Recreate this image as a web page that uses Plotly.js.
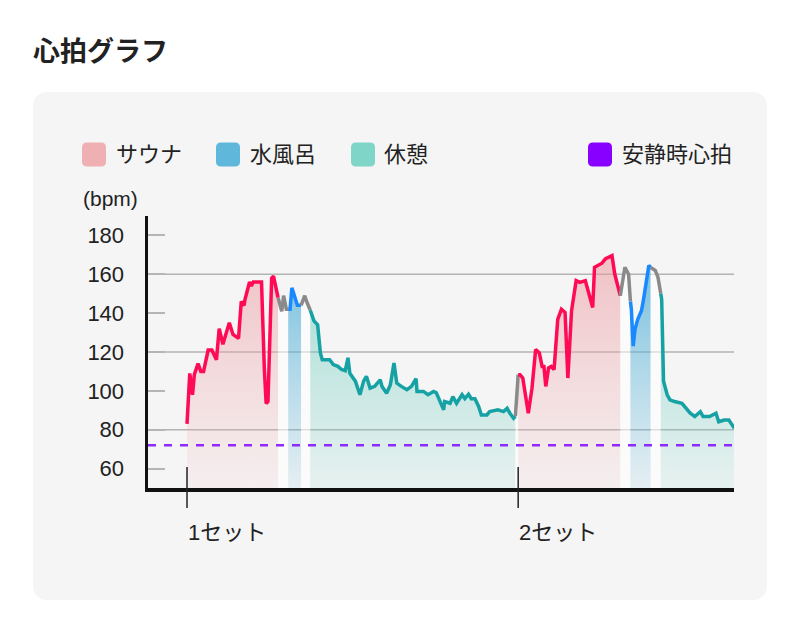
<!DOCTYPE html>
<html><head><meta charset="utf-8">
<script src="https://cdn.plot.ly/plotly-3.0.1.min.js"></script>
<style>
body{margin:0;background:#fff;}
#card{position:absolute;left:33px;top:92px;width:734px;height:508px;background:#f5f5f5;border-radius:14px;}
#chart{position:absolute;left:0;top:0;width:800px;height:626px;}
</style></head><body>
<div id="card"></div><div id="chart"></div>
<script>
// ---- data ----
const timeMin = [
  0.0,0.3,0.6,0.8,1.2,1.5,1.8,2.3,2.7,3.2,3.5,3.9,4.6,5.0,5.6,5.9,6.2,6.3,6.8,7.0,7.2,8.1,8.4,8.6,8.8,9.2,9.4,9.9,
  10.3,10.5,10.8,11.0,
  11.2,11.4,11.6,12.0,12.4,
  12.8,13.0,13.4,
  13.6,13.8,14.2,14.5,14.7,15.5,15.9,16.4,16.8,17.2,17.5,17.7,18.3,18.8,19.2,19.5,19.9,20.4,21.0,21.2,21.7,22.1,22.5,22.8,
  23.3,23.9,24.4,24.9,25.0,25.7,26.2,26.8,27.1,27.5,27.9,28.0,28.6,28.9,29.3,29.9,30.2,30.6,30.9,31.3,31.7,32.0,32.6,32.9,
  33.5,33.8,34.4,34.8,35.1,35.5,35.7,
  36.0,
  36.2,36.5,36.7,37.1,37.5,37.9,38.3,38.6,38.8,39.0,39.3,39.6,39.9,40.3,40.7,41.1,41.4,41.8,42.3,42.7,43.3,43.5,44.1,44.3,
  44.7,45.1,45.5,46.2,46.5,46.9,47.1,
  47.4,47.6,48.0,48.2,
  48.3,48.5,48.7,49.0,49.4,49.6,50.0,50.2,50.4,
  50.9,51.2,51.5,
  51.6,51.8,52.2,52.5,53.0,53.8,54.1,54.7,55.2,55.8,56.1,56.8,57.5,57.8,58.4,58.9,59.5
];
const heartRate = [
  83,109,98,108.5,114,110,110,121,121,116,132,124,135,129,127,146,144,147,156,154,156,156,112,93.5,94.5,158,159,148,
  141,149,142,142,
  142,153,150,144,144,
  149,146,141.5,
  138.5,136,134,119.5,116,116,113.5,112.6,111,110.4,117,109,105,98,105,107.5,101.4,102.3,105.7,102.3,98.8,103,114.3,104,
  102.3,100.6,102.3,106.3,99.7,99.7,98,99.7,99,94.5,90.2,94.5,93.6,97,93.6,98,96,98.3,96,96,92,87.6,87.6,89.3,
  90.2,90.2,89.3,91,88.5,85.9,87,
  108.3,
  108.3,106.6,100.6,88.5,101.4,121.3,119.5,112.6,112.6,102.3,111.8,112.6,110.9,136.8,142,140.3,106.6,141.2,156.7,155.8,156.7,153.2,142.9,163.6,
  164.5,165.7,168,169.6,160,152.4,149,
  157.6,163.6,160,146,
  142,123,131.7,136.8,141.2,146.3,160,164.5,163.5,
  162,158.4,150,
  147,105,98,95.4,94.5,93.6,92,88.5,86.8,89.3,86.8,86.8,88.5,84.1,85,85,80.7
];
const phaseStarts = [0, 10.3, 11.2, 12.8, 13.6, 36.0, 36.2, 47.4, 48.3, 50.9, 51.6];
const phaseKinds  = ['sauna','trans','water','trans','rest','trans','sauna','trans','water','trans','rest'];
const setTicks = [0, 36];
const setLabels = ['1セット', '2セット'];
const yTicks = [60, 80, 100, 120, 140, 160, 180];
const gridValues = [80, 120, 160];
const restingHR = 72;
const legendLabels = ['サウナ', '水風呂', '休憩', '安静時心拍'];

// ---- styles ----
const FONT = "'Liberation Sans', 'Noto Sans CJK JP', sans-serif";
const lineColor = {sauna:'#ff0a55', water:'#1a88ff', rest:'#16a2a4', trans:'#8a8a8a'};
const fillScale = {
  sauna: [[0,'rgba(240,175,180,0.10)'],[1,'rgba(236,150,156,0.55)']],
  water: [[0,'rgba(110,190,222,0.12)'],[1,'rgba(80,175,215,0.80)']],
  rest:  [[0,'rgba(120,210,196,0.12)'],[1,'rgba(100,200,186,0.60)']]
};
const legendColors = ['#eeb0b2', '#5fb8dc', '#7fd6c8', '#8800ff'];
const legendBoxX = [82, 216, 351, 588];
const legendTextX = [115, 249, 383, 621];

// ---- build segments ----
const segs = phaseKinds.map(k => ({kind:k, t:[], y:[]}));
timeMin.forEach((t, i) => {
  let k = 0;
  for (let j = 0; j < phaseStarts.length; j++) if (t >= phaseStarts[j] - 1e-9) k = j;
  segs[k].t.push(t); segs[k].y.push(heartRate[i]);
});
for (let k = 1; k < segs.length; k++) {
  const p = segs[k-1];
  segs[k].t.unshift(p.t[p.t.length-1]);
  segs[k].y.unshift(p.y[p.y.length-1]);
}
const traces = [];
segs.forEach(s => {
  const f = {x:s.t, y:s.y, mode:'none', fill:'tozeroy', hoverinfo:'skip', type:'scatter'};
  if (s.kind === 'trans') f.fillcolor = 'rgba(255,255,255,0.55)';
  else f.fillgradient = {type:'vertical', start:50, stop:170, colorscale:fillScale[s.kind]};
  traces.push(f);
});
segs.forEach(s => {
  traces.push({x:s.t, y:s.y, mode:'lines', type:'scatter', hoverinfo:'skip',
    line:{color:lineColor[s.kind], width:3.5}});
});

// ---- px helpers ----
const L = 148, R = 66, T = 216, B = 138, W = 800 - L - R, H = 626 - T - B;
const px = x => (x - L) / W;
const py = y => (626 - B - y) / H;
function roundRect(x0, y0, x1, y1, r) {
  const P = (x, y) => px(x) + ',' + py(y);
  return 'M' + P(x0 + r, y0) + ' L' + P(x1 - r, y0) + ' Q' + P(x1, y0) + ' ' + P(x1, y0 + r) +
    ' L' + P(x1, y1 - r) + ' Q' + P(x1, y1) + ' ' + P(x1 - r, y1) +
    ' L' + P(x0 + r, y1) + ' Q' + P(x0, y1) + ' ' + P(x0, y1 - r) +
    ' L' + P(x0, y0 + r) + ' Q' + P(x0, y0) + ' ' + P(x0 + r, y0) + ' Z';
}

const shapes = [];
gridValues.forEach(v => shapes.push({type:'line', xref:'paper', x0:0, x1:1, yref:'y', y0:v, y1:v,
  line:{color:'#b3b3b3', width:1.5}, layer:'below'}));
shapes.push({type:'line', xref:'paper', x0:0, x1:1, yref:'y', y0:restingHR, y1:restingHR,
  line:{color:'#8f2bff', width:2.5, dash:'8px,8px'}});
setTicks.forEach(v => shapes.push({type:'line', xref:'x', x0:v, x1:v, yref:'paper', y0:py(467), y1:py(508),
  line:{color:'#222', width:1.5}}));
legendColors.forEach((c, i) => shapes.push({type:'path', xref:'paper', yref:'paper',
  path:roundRect(legendBoxX[i], 142.5, legendBoxX[i] + 24, 166.5, 5), fillcolor:c, line:{width:0}}));

const annotations = [];
legendLabels.forEach((t, i) => annotations.push({text:t, xref:'paper', yref:'paper', x:px(legendTextX[i]), y:py(155),
  xanchor:'left', yanchor:'middle', showarrow:false, font:{size:22, color:'#222'}, borderpad:0}));
setLabels.forEach((t, i) => annotations.push({text:t, xref:'x', yref:'paper', x:setTicks[i], y:py(532),
  xanchor:'left', yanchor:'middle', showarrow:false, font:{size:22, color:'#222'}, borderpad:0}));
annotations.push({text:'(bpm)', xref:'paper', yref:'paper', x:px(82), y:py(198), xanchor:'left', yanchor:'middle',
  showarrow:false, font:{size:21, color:'#222'}, borderpad:0});

const layout = {
  width:800, height:626,
  margin:{l:L, r:R, t:T, b:B, pad:0},
  paper_bgcolor:'rgba(0,0,0,0)', plot_bgcolor:'rgba(0,0,0,0)',
  showlegend:false,
  font:{family:FONT, color:'#222'},
  title:{text:'<b>心拍グラフ</b>', xref:'container', yref:'container', x:33/800, xanchor:'left',
    y:1 - 52/626, yanchor:'middle', font:{size:27, color:'#222', family:FONT}},
  xaxis:{range:[-4.24, 59.46], showgrid:false, zeroline:false, showline:true, linecolor:'#111', linewidth:3.5,
    showticklabels:false, ticks:'', fixedrange:true},
  yaxis:{range:[50, 190], tickvals:yTicks, ticks:'inside', ticklen:17, tickwidth:2, tickcolor:'#b5b5b5',
    showgrid:false, zeroline:false, showline:true, linecolor:'#111', linewidth:3.5,
    tickfont:{size:22, color:'#222'}, ticklabelstandoff:16, fixedrange:true},
  shapes:shapes, annotations:annotations
};
Plotly.newPlot('chart', traces, layout, {displayModeBar:false, staticPlot:true});
</script>
</body></html>
